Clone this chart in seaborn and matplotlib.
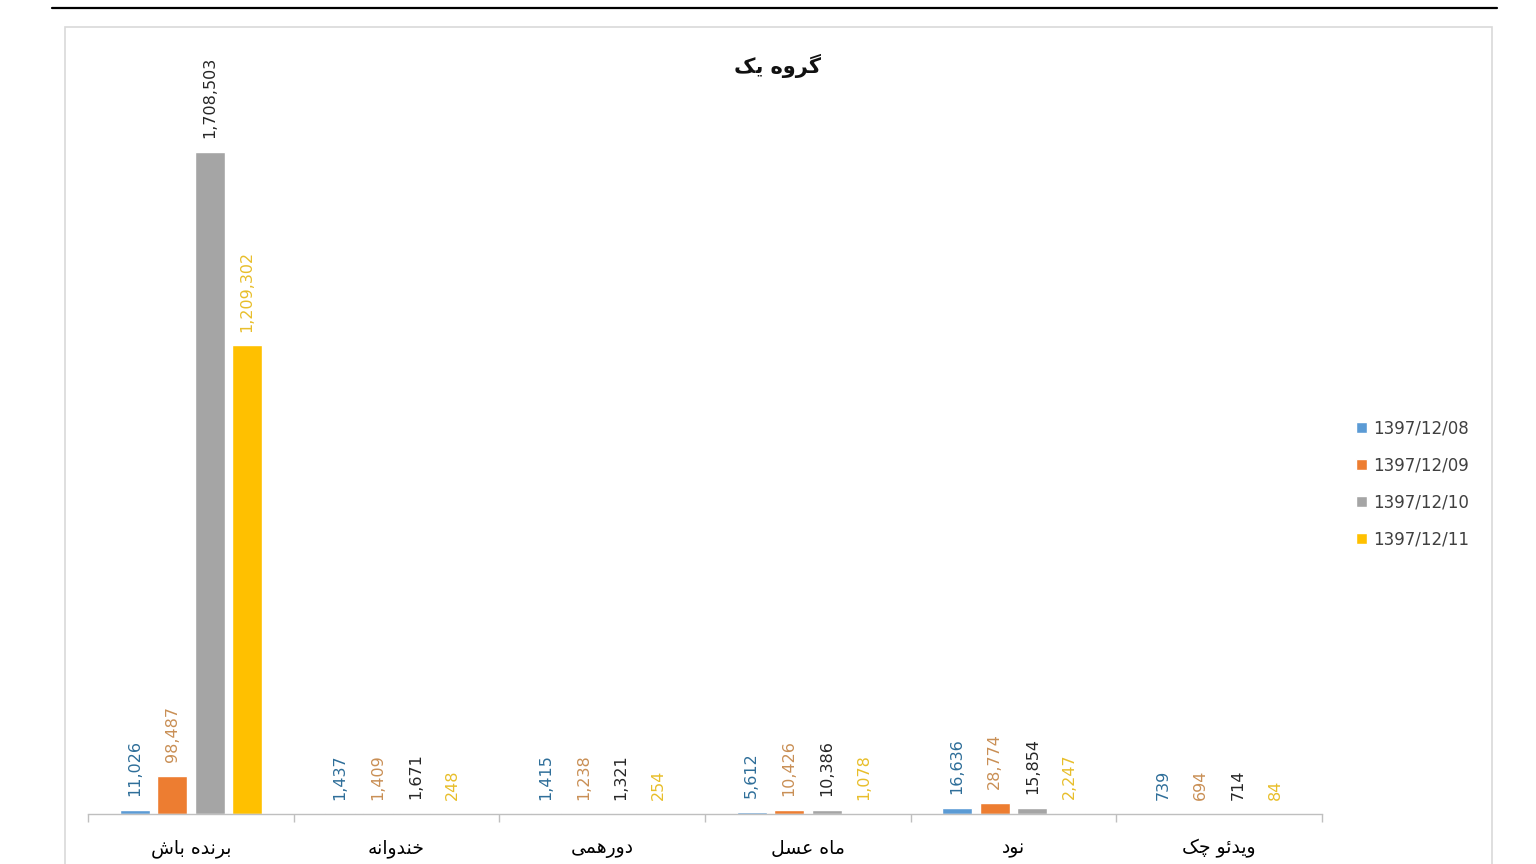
import matplotlib
matplotlib.use("Agg")
import matplotlib.pyplot as plt
from matplotlib.lines import Line2D
from matplotlib.patches import Rectangle
import seaborn as sns
import pandas as pd

# ---------------- data ----------------
title = "گروه یک"
shows = ["برنده باش", "خندوانه", "دورهمی", "ماه عسل", "نود", "ویدئو چک"]
dates = ["1397/12/08", "1397/12/09", "1397/12/10", "1397/12/11"]
v_0808 = [11026, 1437, 1415, 5612, 16636, 739]
v_0809 = [98487, 1409, 1238, 10426, 28774, 694]
v_0810 = [1708503, 1671, 1321, 10386, 15854, 714]
v_0811 = [1209302, 248, 254, 1078, 2247, 84]
series = [v_0808, v_0809, v_0810, v_0811]

bar_colors = ["#5B9BD5", "#ED7D31", "#A5A5A5", "#FFC000"]
label_colors = ["#2E6E99", "#C98F55", "#262626", "#E8BE2A"]

# ---------- minimal Arabic/Persian shaping for display ----------
FORMS = {
    "\u0627": ("\uFE8D", "\uFE8E", None, None),
    "\u0628": ("\uFE8F", "\uFE90", "\uFE91", "\uFE92"),
    "\u062E": ("\uFEA5", "\uFEA6", "\uFEA7", "\uFEA8"),
    "\u062F": ("\uFEA9", "\uFEAA", None, None),
    "\u0631": ("\uFEAD", "\uFEAE", None, None),
    "\u0633": ("\uFEB1", "\uFEB2", "\uFEB3", "\uFEB4"),
    "\u0634": ("\uFEB5", "\uFEB6", "\uFEB7", "\uFEB8"),
    "\u0639": ("\uFEC9", "\uFECA", "\uFECB", "\uFECC"),
    "\u0644": ("\uFEDD", "\uFEDE", "\uFEDF", "\uFEE0"),
    "\u0645": ("\uFEE1", "\uFEE2", "\uFEE3", "\uFEE4"),
    "\u0646": ("\uFEE5", "\uFEE6", "\uFEE7", "\uFEE8"),
    "\u0647": ("\uFEE9", "\uFEEA", "\uFEEB", "\uFEEC"),
    "\u0648": ("\uFEED", "\uFEEE", None, None),
    "\u0626": ("\uFE89", "\uFE8A", "\uFE8B", "\uFE8C"),
    "\u06AF": ("\uFB92", "\uFB93", "\uFB94", "\uFB95"),
    "\u0686": ("\uFB7A", "\uFB7B", "\uFB7C", "\uFB7D"),
    "\u06A9": ("\uFB8E", "\uFB8F", "\uFB90", "\uFB91"),
    "\u06CC": ("\uFBFC", "\uFBFD", "\uFBFE", "\uFBFF"),
}


def shape(text):
    out = []
    for i, c in enumerate(text):
        if c not in FORMS:
            out.append(c)
            continue
        prev = text[i - 1] if i > 0 else None
        nxt = text[i + 1] if i + 1 < len(text) else None
        jp = prev in FORMS and FORMS[prev][2] is not None
        jn = nxt in FORMS and FORMS[c][2] is not None
        iso, fin, ini, med = FORMS[c]
        if jp and jn:
            out.append(med)
        elif jp:
            out.append(fin)
        elif jn:
            out.append(ini)
        else:
            out.append(iso)
    return "".join(reversed(out))


# ---------------- figure ----------------
sns.set_style("white")
plt.rcParams["font.family"] = ["DejaVu Sans"]

rows = []
for d, vals in zip(dates, series):
    for s, v in zip(shows, vals):
        rows.append({"show": s, "date": d, "views": v})
df = pd.DataFrame(rows)

fig = plt.figure(figsize=(15.36, 8.64), dpi=100)
ax = fig.add_axes([88 / 1536, 1 - 814 / 864, (1322 - 88) / 1536, (814 - 100) / 864])

sns.barplot(data=df, x="show", y="views", hue="date", order=shows,
            hue_order=dates, palette=bar_colors, width=0.73, gap=0.2,
            errorbar=None, ax=ax, saturation=1)

ax.set_ylim(0, 1708503 * 714 / 662)
ax.set_xlim(-0.5, len(shows) - 0.5)

for i, cont in enumerate(ax.containers):
    ax.bar_label(cont, labels=[f"{v:,}" for v in series[i]], rotation=90,
                 padding=10, color=label_colors[i], fontsize=11.5)

ax.set_xticks(range(len(shows)))
ax.set_xticklabels([shape(s) for s in shows], fontsize=13.5, color="#000000")
ax.tick_params(axis="x", which="major", length=0, pad=18, bottom=False)
ax.set_xticks([i - 0.5 for i in range(len(shows) + 1)], minor=True)
ax.tick_params(axis="x", which="minor", length=6, width=1, color="#BFBFBF",
               direction="out", bottom=True)
ax.set_yticks([])
ax.set_xlabel("")
ax.set_ylabel("")
for side in ["top", "right", "left"]:
    ax.spines[side].set_visible(False)
ax.spines["bottom"].set_color("#BFBFBF")
ax.spines["bottom"].set_linewidth(1)

leg = ax.legend(loc="center left", bbox_to_anchor=(1341 / 1536, 1 - 484 / 864),
                bbox_transform=fig.transFigure, frameon=False, fontsize=12,
                handlelength=0.65, handleheight=0.65, handletextpad=0.35,
                labelspacing=1.15)
for t in leg.get_texts():
    t.set_color("#404040")

fig.text(778 / 1536, 1 - 66 / 864, shape(title), ha="center", va="center",
         fontsize=15, fontweight="bold", color="#111111")

fig.add_artist(Line2D([52 / 1536, 1497 / 1536], [1 - 8 / 864, 1 - 8 / 864],
                      color="black", lw=1.6, transform=fig.transFigure))
fig.add_artist(Rectangle((65 / 1536, -0.02), (1492 - 65) / 1536, 1 - 27 / 864 + 0.02,
                         fill=False, edgecolor="#D9D9D9", lw=1.2,
                         transform=fig.transFigure))

fig.savefig("out.png", dpi=100)
